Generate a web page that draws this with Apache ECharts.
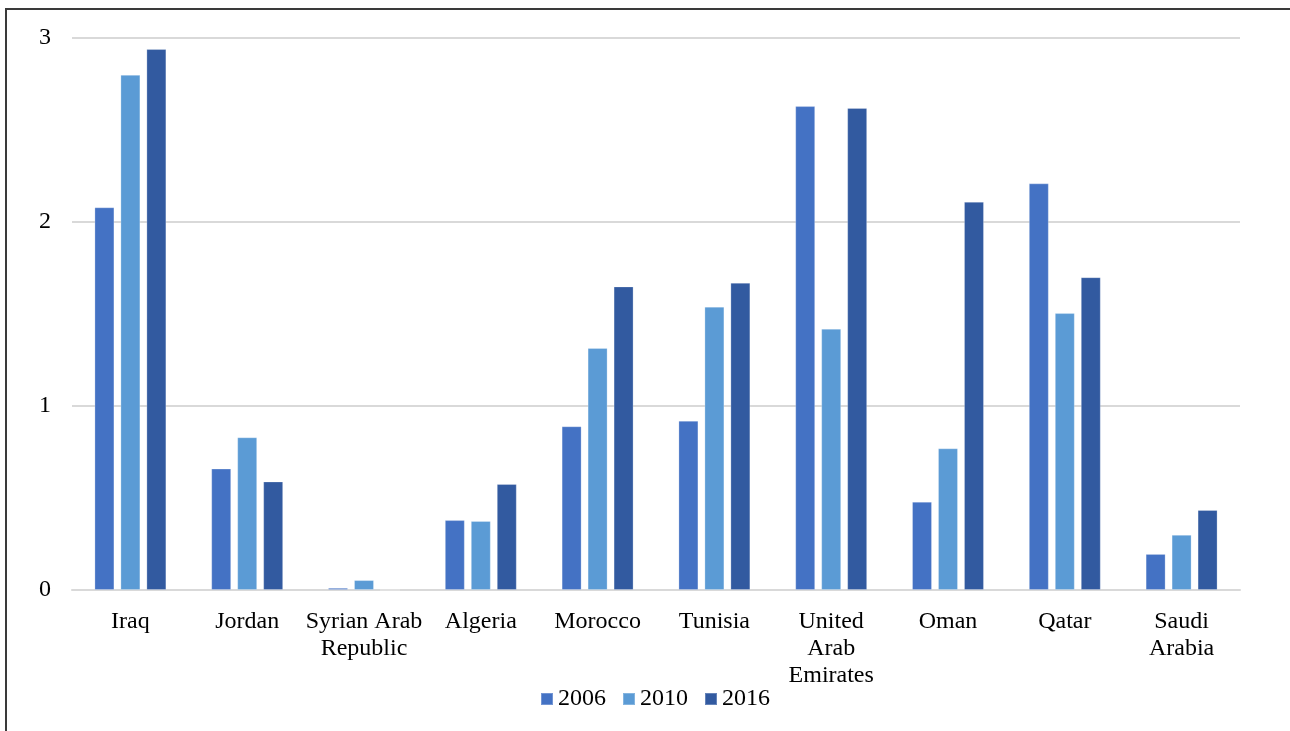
<!DOCTYPE html>
<html>
<head>
<meta charset="utf-8">
<script src="https://cdn.jsdelivr.net/npm/echarts@6/dist/echarts.min.js"></script>
<style>
  html, body { margin: 0; padding: 0; background: #fff; overflow: hidden; }
  #frame { position: absolute; left: 5px; top: 8px; width: 1400px; height: 800px;
           border-left: 2px solid #3a3a3a; border-top: 2px solid #3a3a3a; }
  #chart { position: absolute; left: 0; top: 0; width: 1290px; height: 731px; }
</style>
</head>
<body>
<div id="frame"></div>
<div id="chart"></div>
<script>
// Countries along the x axis (line breaks as they wrap under each group)
const countries = ['Iraq', 'Jordan', 'Syrian Arab\nRepublic', 'Algeria', 'Morocco',
  'Tunisia', 'United\nArab\nEmirates', 'Oman', 'Qatar', 'Saudi\nArabia'];

const years = ['2006', '2010', '2016'];

const values2006 = [2.08, 0.66, 0.012, 0.38, 0.89, 0.92, 2.63, 0.48, 2.21, 0.196];
const values2010 = [2.80, 0.83, 0.054, 0.375, 1.315, 1.54, 1.42, 0.77, 1.505, 0.30];
const values2016 = [2.94, 0.59, 0, 0.576, 1.65, 1.67, 2.62, 2.11, 1.70, 0.435];

const yTicks = { min: 0, max: 3, interval: 1 };

const colors = ['#4472C4', '#5B9BD5', '#325AA0'];
const font = '"Liberation Serif", "Times New Roman", serif';

const chart = echarts.init(document.getElementById('chart'), null, { renderer: 'canvas' });

function barSeries(name, data, color) {
  return {
    name: name,
    type: 'bar',
    data: data,
    barGap: '30%',
    barCategoryGap: '38.4%',
    itemStyle: { color: color, borderColor: 'rgba(255,255,255,0.25)', borderWidth: 1 },
    emphasis: { disabled: true }
  };
}

chart.setOption({
  animation: false,
  textStyle: { fontFamily: font },
  grid: { left: 72, right: 50, top: 38, bottom: 141, containLabel: false },
  legend: {
    data: years,
    bottom: 15,
    left: 535,
    itemWidth: 12,
    itemHeight: 12,
    itemGap: 16,
    icon: 'rect',
    textStyle: { fontFamily: font, fontSize: 24, color: '#000' }
  },
  xAxis: {
    type: 'category',
    data: countries,
    axisLine: { show: true, lineStyle: { color: '#D9D9D9', width: 2 } },
    axisTick: { show: false },
    axisLabel: {
      fontFamily: font, fontSize: 24, color: '#000',
      lineHeight: 27, margin: 18, interval: 0
    }
  },
  yAxis: {
    type: 'value',
    min: yTicks.min,
    max: yTicks.max,
    interval: yTicks.interval,
    axisLine: { show: false },
    axisTick: { show: false },
    splitLine: { lineStyle: { color: '#D9D9D9', width: 2 } },
    axisLabel: { fontFamily: font, fontSize: 24, color: '#000', margin: 21 }
  },
  series: [
    barSeries(years[0], values2006, colors[0]),
    barSeries(years[1], values2010, colors[1]),
    barSeries(years[2], values2016, colors[2])
  ]
});
</script>
</body>
</html>
